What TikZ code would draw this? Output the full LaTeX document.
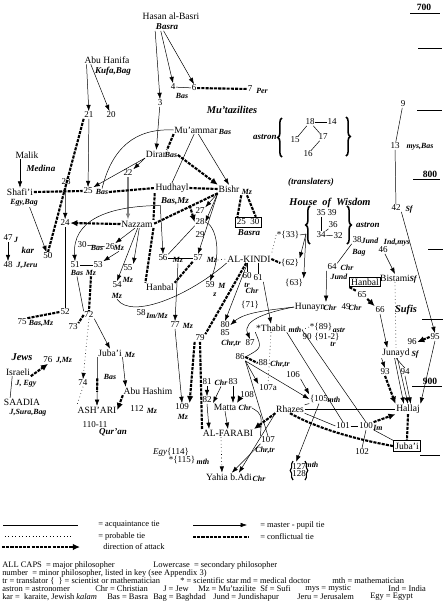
\documentclass[tikz,border=0pt]{standalone}
\usepackage{fontspec}
\setmainfont{Liberation Serif}
\usetikzlibrary{arrows.meta,decorations.pathreplacing}
\tikzset{
  nm/.style={font=\fontsize{6.8}{7}\selectfont,inner sep=0.4pt},
  num/.style={font=\fontsize{6.4}{7}\selectfont,inner sep=0.4pt},
  sb/.style={font=\fontsize{5.6}{6}\selectfont\bfseries\itshape,inner sep=0.3pt},
  grp/.style={font=\fontsize{6.4}{7}\selectfont\bfseries\itshape,inner sep=0.4pt},
  grpL/.style={font=\fontsize{7.4}{8}\selectfont\bfseries\itshape,inner sep=0.4pt},
  lgd/.style={font=\fontsize{6}{6.5}\selectfont,inner sep=0pt,anchor=west},
  acq/.style={line width=0.35pt},
  mp/.style={line width=0.35pt,-{Latex[length=4.5pt,width=3.2pt]}},
  prob/.style={line width=0.45pt,dotted},
  conf/.style={line width=1.5pt,dash pattern=on 2.2pt off 0.8pt},
  attk/.style={conf,-{Latex[length=5pt,width=4.6pt]}},
  yr/.style={line width=0.4pt},
  brc/.style={decorate,decoration={brace,amplitude=3pt},line width=1.1pt},
}
\begin{document}
\begin{tikzpicture}[x=0.025cm,y=-0.025cm]
\useasboundingbox (0,0) rectangle (444,614);
% Hasan al-Basri and Abu Hanifa
\node[nm] (hasan) at (171,16) {Hasan al-Basri};
\node[grp] (basra) at (167,27) {Basra};
\node[nm] (hanifa) at (107,60) {Abu Hanifa};
\node[grp] (kufa) at (113,71) {Kufa,Bag};
\node[num] (n21) at (89,115) {21};
\node[num] (n20) at (111,115) {20};
\node[num] (n3) at (160,103) {3};
\node[num] (n4) at (173,87) {4};
\node[sb] (n4s) at (182,96) {Bas};
\node[num] (n6) at (194,88) {6};
\node[num] (n7) at (250,89) {7};
\node[sb] (n7s) at (262,91) {Per};
\node[grpL] (mutaz) at (232,110) {Mu'tazilites};
% Mu'tazilites
\node[nm] (muammar) at (196,130) {Mu'ammar};
\node[sb] (muammars) at (225,132) {Bas};
\node[nm] (dirar) at (156,154) {Dirar};
\node[sb] (dirars) at (171,155) {Bas};
\node[num] (n22) at (128,173) {22};
\node[num] (n23) at (66,182) {23};
\node[num] (n25) at (88,191) {25};
\node[sb] (n25s) at (102,192) {Bas};
\node[nm] (hudhayl) at (172,188) {Hudhayl};
\node[grp] (hudhayls) at (175,201) {Bas,Mz};
\node[nm] (bishr) at (229,189) {Bishr};
\node[sb] (bishrs) at (247,192) {Mz};
\node[num,draw,line width=0.5pt,inner sep=1.3pt] (box2530) at (248,222) {25\enspace30};
\node[grp] (box2530s) at (249,233) {Basra};
\node[num] (n27) at (200,211) {27};
\node[num] (n28) at (200,222) {28};
\node[num] (n29) at (200,235) {29};
\node[num] (n24) at (65,223) {24};
\node[nm] (nazzam) at (137,224) {Nazzam};
\node[num] (n30) at (82,245) {30};
\node[sb] (n30s) at (97,248) {Bas};
\node[num] (n26) at (110,247) {26};
\node[sb] (n26s) at (119,248) {Mz};
\node[num] (n51) at (75,265) {51};
\node[num] (n53) at (98,265) {53};
\node[sb] (n51s) at (77,273) {Bas};
\node[sb] (n53s) at (91,273) {Mz};
\node[num] (n55) at (128,268) {55};
\node[sb] (n55s) at (128,280) {Mz};
\node[num] (n54) at (117,285) {54};
\node[sb] (n54s) at (117,296) {Mz};
\node[nm] (hanbal) at (160,287) {Hanbal};
\node[num] (n56) at (163,258) {56};
\node[sb] (n56s) at (178,260) {Mz};
\node[num] (n57) at (198,258) {57};
\node[sb] (n57s) at (212,260) {Mz};
\node[num] (n59) at (210,285) {59};
\node[sb] (n59s) at (222,286) {M};
\node[sb] (n59t) at (215,295) {z};
\node[num] (n58) at (141,313) {58};
\node[sb] (n58s) at (157,316) {Im/Mz};
% Malik, Shafi'i and the Basra line
\node[nm] (malik) at (27,155) {Malik};
\node[grp] (medina) at (41,168) {Medina};
\node[nm] (shafii) at (20,192) {Shafi'i};
\node[sb] (shafiis) at (24,203) {Egy,Bag};
\node[num] (n47) at (8,238) {47};
\node[sb] (n47s) at (16,240) {J};
\node[grp] (kar) at (28,250) {kar};
\node[num] (n48) at (8,265) {48};
\node[sb] (n48s) at (27,266) {J,Jeru};
\node[num] (n50) at (48,256) {50};
\node[num] (n52) at (65,312) {52};
\node[num] (n75) at (22,322) {75};
\node[sb] (n75s) at (41,324) {Bas,Mz};
\node[num] (n72) at (89,315) {72};
\node[num] (n73) at (73,327) {73};
\node[nm] (jubai) at (110,353) {Juba'i};
\node[sb] (jubais) at (130,355) {Mz};
\node[num] (n74) at (83,383) {74};
\node[sb] (bas74) at (110,377) {Bas};
\node[nm] (abuhashim) at (148,391) {Abu Hashim};
\node[nm] (ashari) at (97,410) {ASH'ARI};
\node[num] (n112) at (137,409) {112};
\node[sb] (n112s) at (152,411) {Mz};
\node[num] (n110) at (95,425) {110-11};
\node[grp] (quran) at (113,432) {Qur'an};
% Jews
\node[grpL] (jews) at (22,357) {Jews};
\node[num] (n76) at (48,360) {76};
\node[sb] (n76s) at (64,361) {J,Mz};
\node[nm] (israeli) at (18,372) {Israeli};
\node[sb] (israelis) at (26,384) {J, Egy};
\node[nm] (saadia) at (22,402) {SAADIA};
\node[sb] (saadias) at (28,413) {J,Sura,Bag};
% Baghdad
\node[nm] (alkindi) at (249,259) {AL-KINDI};
\node[num] (n60) at (247,276) {60};
\node[sb] (n60s) at (247,285) {tr};
\node[num] (n61) at (258,278) {61};
\node[sb] (n61s) at (252,291) {Chr};
\node[num] (n33) at (288,235) {*\{33\}};
\node[num] (n62) at (290,263) {\{62\}};
\node[num] (n63) at (294,283) {\{63\}};
\node[num] (n77) at (175,325) {77};
\node[sb] (n77s) at (188,326) {Mz};
\node[num] (n71) at (250,305) {\{71\}};
\node[num] (n79) at (200,338) {79};
\node[num] (n80) at (225,325) {80};
\node[num] (n85) at (225,333) {85};
\node[sb] (n85s) at (231,343) {Chr,tr};
\node[nm] (thabit) at (271,328) {*Thabit};
\node[sb] (thabits) at (295,330) {mth};
\node[num] (n87) at (250,343) {87};
\node[num] (n86) at (240,357) {86};
\node[num] (n88) at (263,363) {88};
\node[sb] (n88s) at (280,364) {Chr,tr};
\node[num] (n106) at (293,375) {106};
\node[num] (n107a) at (268,388) {107a};
\node[num] (n81) at (207,382) {81};
\node[sb] (n81s) at (221,383) {Chr};
\node[num] (n83) at (233,382) {83};
\node[num] (n82) at (207,400) {82};
\node[num] (n108) at (247,395) {108};
\node[nm] (matta) at (225,407) {Matta};
\node[sb] (mattas) at (245,408) {Chr};
\node[nm] (alfarabi) at (228,433) {AL-FARABI};
\node[nm] (rhazes) at (290,409) {Rhazes};
\node[num] (n107) at (268,440) {107};
\node[sb] (n107s) at (265,450) {Chr,tr};
\node[num] (n109) at (182,407) {109};
\node[sb] (n109s) at (183,417) {Mz};
\node[num] (n114) at (171,452) {{\itshape Egy}\{114\}};
\node[num] (n115) at (182,460) {*\{115\}};
\node[sb] (n115s) at (203,462) {mth};
\node[nm] (yahia) at (229,477) {Yahia b.Adi};
\node[sb] (yahias) at (259,479) {Chr};
\node[num,align=center,inner sep=1pt] (n127) at (299,470) {127\\[-2pt]128};
\node[sb] (n127s) at (312,465) {mth};
% Hunayn, Hallaj and the Sufis
\node[nm] (hunayn) at (310,307) {Hunayn};
\node[sb] (hunayns) at (330,308) {Chr};
\node[num] (n49) at (346,307) {49};
\node[sb] (n49s) at (355,308) {Chr};
\node[num] (n89) at (321,327) {*\{89\}};
\node[sb] (n89s) at (339,330) {astr};
\node[num] (n90) at (307,337) {90};
\node[num] (n91) at (327,337) {\{91-2\}};
\node[sb] (n91s) at (333,344) {tr};
\node[num] (n105) at (319,399) {\{105};
\node[sb] (n105s) at (334,400) {mth};
\node[num] (n101) at (343,426) {101};
\node[num] (n100) at (366,426) {100};
\node[sb] (n100s) at (378,428) {Im};
\node[num] (n102) at (362,452) {102};
\node[nm] (hallaj) at (408,409) {Hallaj};
\node[nm,draw,line width=0.5pt,inner sep=1.5pt] (jubaibox) at (407,446) {Juba'i};
\node[nm] (junayd) at (396,353) {Junayd};
\node[sb] (junayds) at (415,355) {Sf};
\node[num] (n93) at (385,372) {93};
\node[num] (n94) at (405,372) {94};
\node[num] (n66) at (380,310) {66};
\node[grpL] (sufis) at (406,310) {Sufis};
\node[num] (n95) at (435,337) {95};
\node[num] (n96) at (412,342) {96};
\node[num] (n65) at (362,295) {65};
\node[nm,draw,line width=0.5pt,inner sep=1pt] (hanbalbox) at (365,282) {Hanbal};
\node[nm] (bistami) at (395,278) {Bistami};
\node[sb] (bistamis) at (413,280) {Sf};
\node[num] (n46) at (383,250) {46};
\node[sb] (n46s) at (397,243) {Ind,mys};
\node[num] (n38) at (357,240) {38};
\node[sb] (n38s) at (370,241) {Jund};
\node[sb] (n38t) at (359,253) {Bag};
\node[num] (n64) at (332,267) {64};
\node[sb] (n64s) at (347,268) {Chr};
\node[sb] (n64t) at (339,277) {Jund};
% House of Wisdom
\node[grp] (transl) at (311,182) {(translaters)};
\node[grpL] (hw) at (330,203) {House\ \ of\ \ Wisdom};
\node[num] (n35) at (321,213) {35};
\node[num] (n39) at (332,213) {39};
\node[num] (n36) at (333,225) {36};
\node[num] (n34) at (321,235) {34};
\node[num] (n32) at (338,236) {32};
\node[grp] (astron2) at (368,225) {astron};
\coordinate (hwbr) at (306,234);
\node[num] (n15) at (295,140) {15};
\node[num] (n18) at (310,122) {18};
\node[num] (n14) at (332,122) {14};
\node[num] (n17) at (323,137) {17};
\node[num] (n16) at (308,154) {16};
\node[grp] (astron1) at (265,137) {astron};
\node[num] (n9) at (403,104) {9};
\node[num] (n13) at (395,146) {13};
\node[sb] (n13s) at (420,147) {mys,Bas};
\node[num] (n42) at (396,208) {42};
\node[sb] (n42s) at (409,210) {Sf};
% braces
\draw[brc] (282,157) -- (282,118);
\draw[brc] (346,117) -- (346,156);
\draw[brc] (310,244) -- (310,206);
\draw[brc] (347,206) -- (347,244);
\draw[brc,decoration={amplitude=2pt},line width=0.8pt] (293,480) -- (293,461);
\draw[brc,decoration={amplitude=2pt},line width=0.8pt] (305,461) -- (305,480);
% time scale
\node[font=\fontsize{6.8}{7}\selectfont\bfseries] (y700) at (424,7) {700};
\node[font=\fontsize{6.8}{7}\selectfont\bfseries] (y800) at (430,174) {800};
\node[font=\fontsize{6.8}{7}\selectfont\bfseries] (y900) at (430,381) {900};
\draw[yr] (410,13) -- (440,13); \draw[yr] (418,48) -- (442,48);
\draw[yr] (417,110) -- (442,110); \draw[yr] (413,179) -- (440,179);
\draw[yr] (428,249) -- (443,249); \draw[yr] (422,319) -- (443,319);
\draw[yr] (412,386) -- (442,386); \draw[yr] (420,455) -- (440,455);
% ties: top
\draw[mp] (basra.south west) -- (n3.north);
\draw[mp] ([xshift=4pt]basra.south west) -- (n4.north);
\draw[mp] ([xshift=6pt]basra.south west) -- (n6.north);
\draw[acq] (n4) -- (n6);
\draw[conf] (n6) -- (n7);
\draw[mp] ([xshift=2pt]hanifa.south west) -- (n21);
\draw[mp] ([xshift=5pt]hanifa.south west) -- (n20);
\draw[mp] (malik.south west -| shafii.north) -- (shafii.north);
\draw[mp] ([xshift=4pt]shafiis.south) -- (n50);
\draw[conf] (shafii.east) -- (n25.west);
\draw[conf] (n21.south west) -- (n50.north);
\draw[mp] (n23) -- (n24);
\draw[mp] (n21) -- (n25);
% ties: Mu'tazilites
\draw[mp] (n3) -- (dirar);
\draw[acq] (muammar.west) .. controls (135,128) and (112,148) .. (n25s.north);
\draw[conf] (muammar.south west) -- (dirar.north east);
\draw[acq] (muammar.-115) -- (hudhayl.north);
\draw[mp] (muammar.-60) -- (bishr.north);
\draw[attk] (dirars.east) -- (bishr.north west);
\draw[mp] (dirar.south west) -- (n25.north east);
\draw[mp] (dirar.south west) -- (n22.north east);
\draw[mp,gray,line width=0.9pt] (n22.south) -- (n22.south |- nazzam.north);
\draw[conf] (n25s.east) -- (hudhayl.west);
\draw[conf] (hudhayl.east) -- (bishr.west);
\draw[conf] (bishrs.south west) -- ([xshift=2pt]box2530.north west);
\draw[conf] (bishrs.south) -- ([xshift=-4pt]box2530.north east);
\draw[mp] (bishr.south west) -- (n27.north east);
\draw[mp] (bishr.south west) -- (n28.east);
\draw[mp] (bishr.south west) -- (n57.north);
\draw[attk] (hudhayls.south east) -- (n28.west);
\draw[mp] (hudhayls.south west) -- (n56.north);
\draw[acq] (n28.south west) -- (n56.north east);
\draw[mp] (n28.east) .. controls (215,225) and (222,250) .. (n59.north);
\draw[acq] (n56) -- (n57);
\draw[prob] (n57s.east) -- (alkindi.west);
\draw[conf] (bishr.south west) -- (nazzam.east);
\draw[conf] (hudhayl.south west) -- (nazzam.north east);
\draw[conf] (nazzam.south east) -- (hanbal.north west);
\draw[conf] (n57.south west) -- (hanbal.north east);
\draw[attk] (nazzam.west) -- (n24.east);
\draw[mp] (nazzam.-115) -- (n26.north east);
\draw[acq] (n30) -- (n26);
\draw[mp] (n26s.south) -- (n53.north east);
\draw[acq] (n51) -- (n53);
\draw[mp] (nazzam.-80) -- (n54.north);
\draw[mp] (nazzam.-60) -- (n55.north east);
\draw[mp] (hudhayls.south west) .. controls (108,206) and (72,220) .. (n51.north);
\draw[acq] (n24) -- (n52);
\draw[acq] (n51s.south) -- (n72.north west);
\draw[conf] (n53s.south) -- (n72.north);
\draw[conf] (n72.west) -- (n73.north east);
\draw[conf] (n75.north east) -- (n52.west);
\draw[mp] (n72.south east) -- (jubai.north);
\draw[prob,-{Latex[length=4.5pt,width=3.2pt]}] (n72.south) -- (n74.north);
\draw[prob] (n74.south) -- (ashari.north west);
\draw[mp] (jubai.south west) -- (ashari.north);
\draw[conf,shorten <=15pt,shorten >=10pt] (jubai.south west) -- (ashari.north);
\draw[mp] (jubai.south east) -- ([xshift=2pt]abuhashim.north west);
\draw[attk] (abuhashim.south west) -- (ashari.east);
\draw[attk] (israeli.south east) -- (n76.south);
\draw[acq] ([xshift=5pt]israeli.south west) -- ([xshift=5pt]saadia.north west);
\draw[mp] (n47) -- (n48);
\draw[mp] (n56s.south) -- (n77.north);
\draw[mp] (n77.south) -- (n109.north);
% ties: Baghdad
\draw[acq] (alkindi.south -| n60.north) -- (n60.north);
\draw[acq] (alkindi.south -| n61.north) -- (n61.north);
\draw[conf] (alkindi.east) -- (n62.west);
\draw[prob] (n33.west) -- (alkindi.north east);
\draw[acq] (n33.east) -- (hwbr);
\draw[mp] (hwbr) -- (n62.north east);
\draw[mp] (hwbr) -- (n63.north east);
\draw[acq] (n35) -- (n34);
\draw[acq] (n34) -- (n36);
\draw[acq] (n34) -- (n32);
\draw[acq] (n15) -- (n18);
\draw[acq] (n18) -- (n14);
\draw[acq] (n18) -- (n17);
\draw[acq] (n17) -- (n16);
\draw[conf] (alkindi.-125) -- (n79.north east);
\draw[mp] (alkindi.-110) -- (n80.north);
\draw[acq] (alkindi.south west) .. controls (190,295) and (132,320) .. (n54s.south);
\draw[attk] (n79.south west) -- (n109.north east);
\draw[conf] (n79.south) -- (alfarabi.north west);
\draw[mp] (hunayn.west) .. controls (270,310) and (245,312) .. (n80.east);
\draw[mp] (hunayn.west) .. controls (268,312) and (242,320) .. (n87.north);
\draw[mp] (n61.south east) -- (thabit.north);
\draw[prob] (thabits.east) -- (n89.west);
\draw[prob] (thabit.south) -- (n107a.north);
\draw[acq] (thabit.south west) .. controls (262,348) .. (n86.east);
\draw[conf] (n86.east) -- (n88.west);
\draw[mp] (n86.south east) -- (n107a.north west);
\draw[acq] (n86.south east) -- (n107.north);
\draw[mp] (n86.south east) -- (n105.west);
\draw[mp] (n106.south east) -- (n105.north west);
\draw[acq] (thabits.east) -- (n100.north);
\draw[acq] (thabit.south east) -- (n101.north);
\draw[mp] (n81) -- (n82);
\draw[mp] (n81s.south) -- (matta.north west);
\draw[mp] (n83.south) -- (n83.south |- matta.north);
\draw[attk] (n108.south west) -- (matta.north east);
\draw[mp] (matta.south) -- (alfarabi.north);
\draw[mp] (n82.south) -- ([xshift=5pt]alfarabi.north west);
\draw[prob,-{Latex[length=4.5pt,width=3.2pt]}] ([xshift=-5pt]alfarabi.south) -- ([xshift=-5pt]yahia.north);
\draw[attk] (rhazes.south west) -- (alfarabi.north east);
\draw[acq] (mattas.east) .. controls (262,414) .. (n107.north west);
\draw[mp] (n107.south west) -- ([xshift=2pt]yahia.north);
\draw[mp] (rhazes.south west) -- ([xshift=7pt]yahia.north);
\draw[conf] (rhazes.south) .. controls (320,430) and (360,440) .. (jubaibox.west);
% ties: Hunayn, Hallaj, Sufis
\draw[acq] (n38.south west) -- (n64.north east);
\draw[mp] (n64.south west) -- (hunayn.north east);
\draw[mp] (n46) -- (bistami.north);
\draw[conf] (hanbalbox.south west) -- (n65.north west);
\draw[attk] (n65.south east) -- (n66.north west);
\draw[mp] (n66.south) -- ([xshift=4pt]junayd.north west);
\draw[prob] (bistami.south) -- (junayd.north);
\draw[acq] (n9) -- (n13);
\draw[acq] (n13) -- (n42);
\draw[mp] (n42.south east) -- (n95.north);
\draw[attk] (n95.west) -- (n96.east);
\draw[mp] (n95.south) -- (hallaj.north east);
\draw[mp] (junayd.south west) -- (n93.north);
\draw[acq] (junayd.south) -- (n94.north);
\draw[mp] ([xshift=-1pt]junayd.south) -- ([xshift=-3pt]hallaj.north);
\draw[mp] ([xshift=1pt]junayd.south) -- (hallaj.north);
\draw[mp] (n94.south) -- ([xshift=2pt]hallaj.north);
\draw[attk] (n93.south) -- (hallaj.north west);
\draw[acq] (n105.south west) -- (rhazes.north east);
\draw[mp] (n105.south) -- ([xshift=-2pt]n127.north);
\draw[acq] (rhazes.east) -- (hallaj.west);
\draw[acq] (n101) -- (n100);
\draw[acq] (n101.west) -- (rhazes.south east);
\draw[attk] (n100.north east) -- (hallaj.south west);
\draw[acq] (n100.south east) -- (jubaibox.north west);
\draw[acq] (n100.south) -- (n102.north);
\draw[conf] (hallaj.south) -- (jubaibox.north);
% key
\draw[acq] (3,525) -- (78,525);
\node[lgd] (k1) at (98,525) {= acquaintance tie};
\draw[mp] (193,525) -- (247,525);
\node[lgd] (k2) at (260,525) {= master - pupil tie};
\draw[prob] (5,536) -- (72,536);
\node[lgd] (k3) at (98,536) {= probable tie};
\draw[conf] (193,537) -- (248,537);
\node[lgd] (k4) at (260,537) {= conflictual tie};
\draw[attk] (2,547) -- (80,547);
\node[lgd] (k5) at (103,547) {direction of attack};
\node[lgd] (k6) at (2,565) {ALL CAPS\ \ = major philosopher};
\node[lgd] (k7) at (153,565) {Lowercase\ \ = secondary philosopher};
\node[lgd] (k8) at (2,573) {number\ \ = minor philosopher, listed in key (see Appendix 3)};
\node[lgd] (k9) at (2,581) {tr = translator};
\node[lgd] (k10) at (50,581) {\{\ \ \} = scientist or mathematician};
\node[lgd] (k11) at (180,581) {* = scientific star};
\node[lgd] (k12) at (240,581) {md = medical doctor};
\node[lgd] (k13) at (332,581) {mth = mathematician};
\node[lgd] (k14) at (2,589) {astron = astronomer};
\node[lgd] (k15) at (95,589) {Chr = Christian};
\node[lgd] (k16) at (163,589) {J = Jew};
\node[lgd] (k17) at (198,589) {Mz = Mu'tazilite};
\node[lgd] (k18) at (260,589) {Sf = Sufi};
\node[lgd] (k19) at (305,589) {mys = mystic};
\node[lgd] (k20) at (388,589) {Ind = India};
\node[lgd] (k21) at (2,597) {kar =\ \ karaite, Jewish {\itshape kalam}};
\node[lgd] (k22) at (107,597) {Bas = Basra};
\node[lgd] (k23) at (153,597) {Bag = Baghdad};
\node[lgd] (k24) at (213,597) {Jund = Jundishapur};
\node[lgd] (k25) at (297,597) {Jeru = Jerusalem};
\node[lgd] (k26) at (370,597) {Egy = Egypt};
\end{tikzpicture}
\end{document}
